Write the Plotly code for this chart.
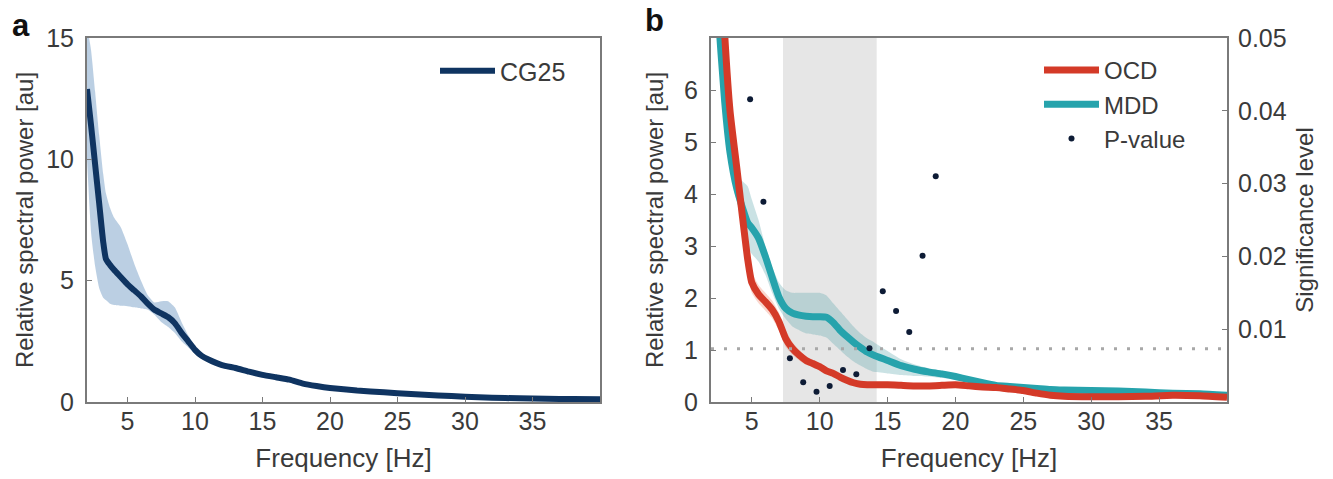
import plotly.graph_objects as go

# ---------------- data ----------------
# Panel a: CG25 relative spectral power
freq_a = [2.0, 2.3, 2.6, 2.9, 3.2, 3.4, 3.7, 4.0, 4.5, 5.0, 5.5, 6.0, 6.5, 7.0, 7.5, 8.0, 8.5,
          9.0, 9.5, 10.0, 10.5, 11.0, 12.0, 13.0, 14.0, 15.0, 16.0, 17.0, 18.0, 19.0, 20.0,
          22.0, 24.0, 26.0, 28.0, 30.0, 32.0, 34.0, 36.0, 38.0, 40.0]
cg25_mean = [12.9, 11.4, 9.8, 8.2, 6.6, 5.9, 5.65, 5.45, 5.15, 4.85, 4.6, 4.35, 4.05, 3.8, 3.65,
             3.5, 3.25, 2.85, 2.5, 2.15, 1.9, 1.75, 1.52, 1.4, 1.25, 1.12, 1.02, 0.92, 0.76,
             0.66, 0.58, 0.47, 0.40, 0.33, 0.27, 0.22, 0.18, 0.15, 0.13, 0.12, 0.11]
cg25_upper = [15.5, 14.5, 12.8, 11.0, 9.4, 8.6, 8.0, 7.6, 7.2, 6.5, 5.7, 5.0, 4.4, 4.1, 4.15,
              4.15, 3.9, 3.3, 2.75, 2.3, 2.0, 1.85, 1.62, 1.5, 1.35, 1.22, 1.12, 1.02, 0.85,
              0.74, 0.66, 0.54, 0.46, 0.39, 0.32, 0.27, 0.22, 0.19, 0.17, 0.16, 0.15]
cg25_lower = [10.0, 7.0, 5.6, 4.7, 4.3, 4.2, 4.05, 4.0, 3.97, 3.95, 3.9, 3.85, 3.8, 3.6, 3.3,
              3.1, 2.85, 2.5, 2.25, 1.98, 1.78, 1.65, 1.42, 1.3, 1.15, 1.02, 0.92, 0.82, 0.67,
              0.58, 0.5, 0.4, 0.34, 0.27, 0.22, 0.17, 0.14, 0.11, 0.09, 0.08, 0.07]

# Panel b: OCD vs MDD
freq_b = [2.0, 2.5, 3.0, 3.4, 3.9, 4.3, 4.7, 5.0, 5.5, 6.0, 6.5, 7.0, 7.5, 8.0, 8.5, 9.0, 9.5,
          10.0, 10.5, 11.0, 11.5, 12.0, 12.5, 13.0, 13.5, 14.0, 15.0, 16.0, 17.0, 18.0, 19.0,
          20.0, 21.0, 22.0, 23.0, 24.0, 25.0, 26.0, 27.0, 28.0, 30.0, 32.0, 34.0, 36.0, 38.0, 40.0]
ocd_mean = [13.0, 9.8, 7.1, 5.6, 4.5, 3.6, 2.75, 2.3, 2.07, 1.93, 1.78, 1.55, 1.22, 1.03, 0.9,
            0.8, 0.74, 0.68, 0.6, 0.55, 0.48, 0.42, 0.37, 0.34, 0.33, 0.33, 0.33, 0.32, 0.31,
            0.31, 0.32, 0.33, 0.31, 0.29, 0.28, 0.25, 0.22, 0.17, 0.13, 0.11, 0.1, 0.1, 0.11,
            0.13, 0.12, 0.09]
ocd_upper = [13.5, 10.2, 7.4, 5.9, 4.75, 3.85, 3.0, 2.5, 2.25, 2.1, 1.95, 1.72, 1.38, 1.15, 1.0,
             0.88, 0.8, 0.74, 0.66, 0.6, 0.53, 0.47, 0.41, 0.38, 0.37, 0.37, 0.37, 0.36, 0.35,
             0.35, 0.36, 0.37, 0.35, 0.33, 0.32, 0.29, 0.26, 0.21, 0.17, 0.15, 0.14, 0.14, 0.15,
             0.17, 0.16, 0.13]
ocd_lower = [12.5, 9.4, 6.8, 5.3, 4.25, 3.35, 2.5, 2.1, 1.9, 1.76, 1.61, 1.38, 1.06, 0.91, 0.8,
             0.72, 0.68, 0.62, 0.54, 0.5, 0.43, 0.37, 0.33, 0.3, 0.29, 0.29, 0.29, 0.28, 0.27,
             0.27, 0.28, 0.29, 0.27, 0.25, 0.24, 0.21, 0.18, 0.13, 0.09, 0.07, 0.06, 0.06, 0.07,
             0.09, 0.08, 0.05]
mdd_mean = [10.5, 7.6, 5.8, 4.8, 4.1, 3.75, 3.45, 3.35, 3.15, 2.8, 2.4, 2.02, 1.8, 1.71, 1.67,
            1.65, 1.64, 1.64, 1.63, 1.53, 1.38, 1.26, 1.15, 1.05, 0.96, 0.9, 0.8, 0.7, 0.63,
            0.58, 0.54, 0.49, 0.43, 0.37, 0.32, 0.3, 0.28, 0.26, 0.24, 0.23, 0.22, 0.21, 0.19,
            0.17, 0.16, 0.13]
mdd_upper = [11.0, 8.0, 6.1, 5.1, 4.4, 4.25, 4.15, 3.9, 3.5, 3.0, 2.6, 2.3, 2.15, 2.1, 2.1, 2.1,
             2.1, 2.1, 2.05, 1.9, 1.75, 1.6, 1.45, 1.32, 1.22, 1.15, 0.98, 0.82, 0.72, 0.65,
             0.6, 0.54, 0.47, 0.41, 0.35, 0.33, 0.31, 0.29, 0.27, 0.26, 0.25, 0.24, 0.22, 0.2,
             0.19, 0.16]
mdd_lower = [10.0, 7.2, 5.5, 4.5, 3.85, 3.4, 3.0, 2.85, 2.7, 2.45, 2.1, 1.8, 1.6, 1.45, 1.38,
             1.32, 1.3, 1.28, 1.24, 1.12, 1.0, 0.88, 0.78, 0.7, 0.63, 0.58, 0.55, 0.52, 0.5,
             0.49, 0.46, 0.43, 0.39, 0.34, 0.3, 0.27, 0.25, 0.23, 0.21, 0.2, 0.19, 0.18, 0.16,
             0.14, 0.13, 0.1]

# significant p-values (right axis)
p_freq = [4.88, 5.86, 7.81, 8.79, 9.77, 10.74, 11.72, 12.70, 13.67, 14.65, 15.63, 16.60, 17.58, 18.55]
p_value = [0.0416, 0.0275, 0.0060, 0.0027, 0.0014, 0.0022, 0.0044, 0.0038, 0.0074, 0.0152,
           0.0125, 0.0096, 0.0201, 0.0310]
threshold = 0.0073
band_hz = [7.3, 14.2]

x_ticks = [5, 10, 15, 20, 25, 30, 35]
ya_ticks = [0, 5, 10, 15]
yb_ticks = [0, 1, 2, 3, 4, 5, 6]
y2_ticks = [0.01, 0.02, 0.03, 0.04, 0.05]
y2_labels = ["0.01", "0.02", "0.03", "0.04", "0.05"]

# ---------------- style ----------------
FONT = "Liberation Sans, Arial, sans-serif"
TXT = "#3a3a3a"
AX = "#7a7a7a"
NAVY = "#0f3461"
RED = "#d43a28"
TEAL = "#26a3ac"
FS_TICK = 25
FS_XT = 26
FS_YT = 24
FS_LEG = 24

# figure-pixel geometry of the plot area
W, H = 1333, 479
L, R, T, B = 87, 1227, 38, 402


def px(xpix):
    return (xpix - L) / (R - L)


def py(ypix):
    return (B - ypix) / (B - T)


fig = go.Figure()
sp = dict(shape="spline", smoothing=0.5)

# panel a band + line
fig.add_trace(go.Scatter(x=freq_a, y=cg25_upper, mode="lines", line=dict(width=0, **sp),
                         showlegend=False, hoverinfo="skip", xaxis="x", yaxis="y"))
fig.add_trace(go.Scatter(x=freq_a, y=cg25_lower, mode="lines", line=dict(width=0, **sp),
                         fill="tonexty", fillcolor="rgba(120,160,200,0.5)",
                         showlegend=False, hoverinfo="skip", xaxis="x", yaxis="y"))
fig.add_trace(go.Scatter(x=freq_a, y=cg25_mean, mode="lines", name="CG25",
                         line=dict(color=NAVY, width=6, **sp),
                         xaxis="x", yaxis="y", legend="legend"))

# panel b bands
fig.add_trace(go.Scatter(x=freq_b, y=mdd_upper, mode="lines", line=dict(width=0, **sp),
                         showlegend=False, hoverinfo="skip", xaxis="x2", yaxis="y2"))
fig.add_trace(go.Scatter(x=freq_b, y=mdd_lower, mode="lines", line=dict(width=0, **sp),
                         fill="tonexty", fillcolor="rgba(90,165,170,0.32)",
                         showlegend=False, hoverinfo="skip", xaxis="x2", yaxis="y2"))
fig.add_trace(go.Scatter(x=freq_b, y=ocd_upper, mode="lines", line=dict(width=0, **sp),
                         showlegend=False, hoverinfo="skip", xaxis="x2", yaxis="y2"))
fig.add_trace(go.Scatter(x=freq_b, y=ocd_lower, mode="lines", line=dict(width=0, **sp),
                         fill="tonexty", fillcolor="rgba(240,140,115,0.35)",
                         showlegend=False, hoverinfo="skip", xaxis="x2", yaxis="y2"))

# threshold dotted line
fig.add_trace(go.Scatter(x=[2, 40], y=[threshold, threshold], mode="lines",
                         line=dict(color="#a8a8a8", width=3, dash="3px,10px"),
                         showlegend=False, hoverinfo="skip", xaxis="x2", yaxis="y3"))

# lines (MDD drawn first so OCD sits on top)
fig.add_trace(go.Scatter(x=freq_b, y=mdd_mean, mode="lines", name="MDD", legendrank=2,
                         line=dict(color=TEAL, width=7, **sp),
                         xaxis="x2", yaxis="y2", legend="legend2"))
fig.add_trace(go.Scatter(x=freq_b, y=ocd_mean, mode="lines", name="OCD", legendrank=1,
                         line=dict(color=RED, width=7, **sp),
                         xaxis="x2", yaxis="y2", legend="legend2"))
fig.add_trace(go.Scatter(x=p_freq, y=p_value, mode="markers", name="P-value", legendrank=3,
                         marker=dict(color="#0d1b35", size=6),
                         xaxis="x2", yaxis="y3", legend="legend2"))

xa_dom = [0, px(600)]
xb_dom = [px(711), 1]

tickfont = dict(family=FONT, size=FS_TICK, color=TXT)
xtitlefont = dict(family=FONT, size=FS_XT, color=TXT)
ytitlefont = dict(family=FONT, size=FS_YT, color=TXT)

common_x = dict(range=[2, 40], tickvals=x_ticks, showgrid=False, zeroline=False, showline=True,
                linecolor=AX, linewidth=2, ticks="inside", ticklen=5, tickcolor=AX,
                tickfont=tickfont, ticklabelstandoff=-4, automargin=False)
common_y = dict(domain=[0, 1], showgrid=False, zeroline=False, showline=True, linecolor=AX,
                linewidth=2, ticks="inside", ticklen=5, tickcolor=AX, tickfont=tickfont,
                ticklabelstandoff=6, automargin=False)

fig.update_layout(
    width=W, height=H,
    margin=dict(l=L, r=W - R, t=T, b=H - B, autoexpand=False),
    paper_bgcolor="white", plot_bgcolor="white",
    font=dict(family=FONT, size=FS_TICK, color=TXT),
    xaxis=dict(domain=xa_dom, anchor="y", mirror=True,
               title=dict(text="Frequency [Hz]", font=xtitlefont, standoff=15), **common_x),
    yaxis=dict(anchor="x", range=[0, 15], tickvals=ya_ticks, mirror=True,
               title=dict(text="Relative spectral power [au]", font=ytitlefont, standoff=6),
               **common_y),
    xaxis2=dict(domain=xb_dom, anchor="y2", mirror=True,
                title=dict(text="Frequency [Hz]", font=xtitlefont, standoff=15), **common_x),
    yaxis2=dict(anchor="x2", range=[0, 7], tickvals=yb_ticks,
                title=dict(text="Relative spectral power [au]", font=ytitlefont, standoff=14),
                **common_y),
    yaxis3=dict(anchor="x2", overlaying="y2", side="right", range=[0, 0.05],
                tickvals=y2_ticks, ticktext=y2_labels,
                title=dict(text="Significance level", font=ytitlefont, standoff=10),
                **{k: v for k, v in common_y.items() if k != "ticklabelstandoff"},
                ticklabelstandoff=4),
    legend=dict(x=px(435), y=py(48), xanchor="left", yanchor="top",
                bgcolor="rgba(0,0,0,0)", font=dict(family=FONT, size=FS_LEG + 1, color=TXT),
                itemwidth=55, tracegroupgap=0),
    legend2=dict(x=px(1039), y=py(48), xanchor="left", yanchor="top",
                 bgcolor="rgba(0,0,0,0)", font=dict(family=FONT, size=FS_LEG, color=TXT),
                 itemwidth=55, tracegroupgap=0, traceorder="normal"),
    shapes=[dict(type="rect", xref="x2", yref="y2", x0=band_hz[0], x1=band_hz[1], y0=0, y1=7,
                 fillcolor="#e6e6e6", line=dict(width=0), layer="below")],
    annotations=[
        dict(text="<b>a</b>", x=px(10), y=py(26), xref="paper", yref="paper",
             xanchor="left", yanchor="middle", showarrow=False,
             font=dict(family=FONT, size=31, color="#111")),
        dict(text="<b>b</b>", x=px(643), y=py(21), xref="paper", yref="paper",
             xanchor="left", yanchor="middle", showarrow=False,
             font=dict(family=FONT, size=31, color="#111")),
    ],
)

fig.write_html("out.html", config={"displayModeBar": False},
               post_script="document.body.style.margin='0px';document.body.style.overflow='hidden';")
